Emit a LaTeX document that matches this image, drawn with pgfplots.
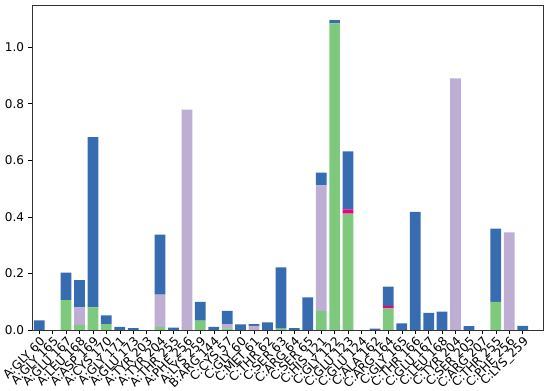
\documentclass[border=0pt]{standalone}
\usepackage{fontspec}
\setmainfont{DejaVu Sans}
\usepackage{pgfplots}
\usepackage{pgfplotstable}
\pgfplotsset{compat=1.18}
\definecolor{cgreen}{HTML}{7FC97F}
\definecolor{clav}{HTML}{BEAED4}
\definecolor{cmag}{HTML}{F0027F}
\definecolor{cblue}{HTML}{386CB0}
\pgfplotstableread{
x green lav mag blue
0 0 0 0 0.033
1 0 0 0 0
2 0.105 0 0 0.097
3 0.017 0.062 0 0.097
4 0.079 0 0 0.603
5 0.020 0 0 0.031
6 0 0 0 0.010
7 0 0 0 0.006
8 0 0 0 0
9 0.010 0.114 0 0.213
10 0 0 0 0.008
11 0 0.779 0 0
12 0.032 0 0 0.067
13 0 0 0 0.010
14 0.005 0.015 0 0.047
15 0 0 0 0.019
16 0 0.014 0 0.006
17 0 0 0 0.026
18 0.004 0 0 0.217
19 0 0 0 0.006
20 0 0 0 0.115
21 0.067 0.444 0 0.045
22 1.084 0 0 0.012
23 0.411 0 0.015 0.205
24 0 0 0 0
25 0 0 0 0.004
26 0.076 0 0.009 0.068
27 0 0 0 0.023
28 0 0 0 0.417
29 0 0 0 0.060
30 0 0 0 0.064
31 0 0.890 0 0
32 0 0 0 0.013
33 0 0 0 0
34 0.099 0 0 0.259
35 0 0.345 0 0
36 0 0 0 0.014
}\data
\begin{document}
\begin{tikzpicture}
\begin{axis}[
  scale only axis,
  width=424pt, height=270pt,
  ybar stacked,
  bar width=0.8,
  xmin=-0.5, xmax=37.5,
  ymin=0, ymax=1.15,
  xtick=data,
  xticklabels={A:GLY 60,A:GLY 165,A:GLU 167,A:LEU 168,A:ASP 169,A:CYS 170,A:GLY 171,A:GLU 173,A:TYR 203,A:TYR 204,A:THR 255,A:PHE 256,A:LYS 259,B:ARG 144,C:CYS 57,C:GLY 60,C:MET 61,C:THR 62,C:SER 63,C:ARG 64,C:SER 65,C:HIS 121,C:GLY 122,C:GLU 123,C:GLU 124,C:ALA 162,C:ARG 164,C:GLY 165,C:THR 166,C:GLU 167,C:LEU 168,C:TYR 204,C:SER 205,C:ARG 207,C:THR 255,C:PHE 256,C:LYS\_259},
  xticklabel style={rotate=45, anchor=north east, inner sep=1pt, font=\normalsize},
  ytick={0,0.2,0.4,0.6,0.8,1.0},
  yticklabel style={/pgf/number format/fixed, /pgf/number format/fixed zerofill, /pgf/number format/precision=1},
  /pgf/number format/assume math mode=true,
  tick align=outside,
  tick pos=left,
  major tick length=3.5pt,
  axis line style={black!80},
  every tick/.style={black},
  enlargelimits=false,
]
\addplot[fill=cgreen, draw=none] table[x=x, y=green] {\data};
\addplot[fill=clav, draw=none] table[x=x, y=lav] {\data};
\addplot[fill=cmag, draw=none] table[x=x, y=mag] {\data};
\addplot[fill=cblue, draw=none] table[x=x, y=blue] {\data};
\end{axis}
\path (current axis.north east) ++(6pt,4pt) coordinate (m);
\useasboundingbox (current bounding box.south west) rectangle (m);
\end{tikzpicture}
\end{document}
